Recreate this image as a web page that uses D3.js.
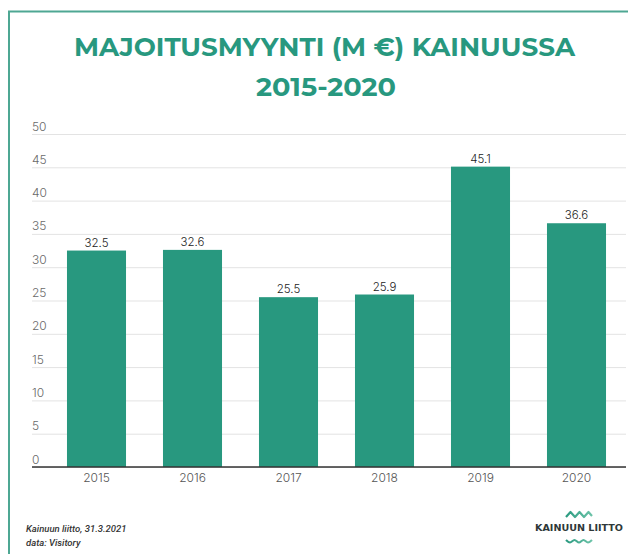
<!DOCTYPE html>
<html>
<head>
<meta charset="utf-8">
<script src="https://cdn.jsdelivr.net/npm/d3@7"></script>
<style>
  html, body { margin: 0; padding: 0; background: #ffffff; }
  svg { display: block; }
</style>
</head>
<body>
<script>
// ---- data ----
const years = ["2015", "2016", "2017", "2018", "2019", "2020"];
const sales = [32.5, 32.6, 25.5, 25.9, 45.1, 36.6];
const yTicks = [0, 5, 10, 15, 20, 25, 30, 35, 40, 45, 50];
const titleLines = ["MAJOITUSMYYNTI (M \u20AC) KAINUUSSA", "2015-2020"];
const footerLines = ["Kainuun liitto, 31.3.2021", "data: Visitory"];
const logoText = "KAINUUN LIITTO";

const W = 628, H = 554;
const teal = "#28987f";
const svg = d3.select("body").append("svg").attr("width", W).attr("height", H);

// frame
svg.append("path")
  .attr("d", "M9,554 V11.5 H628")
  .attr("fill", "none").attr("stroke", "#4ea793").attr("stroke-width", 2);

// title
const titleFont = "Montserrat, 'DejaVu Sans', sans-serif";
const titleSpecs = [{ y: 56, w: 501, cx: 324.5 }, { y: 96, w: 140, cx: 326 }];
titleLines.forEach((t, i) => {
  svg.append("text")
    .attr("x", titleSpecs[i].cx).attr("y", titleSpecs[i].y)
    .attr("text-anchor", "middle")
    .attr("font-family", titleFont).attr("font-weight", "bold")
    .attr("font-size", 26).attr("fill", teal)
    .attr("textLength", titleSpecs[i].w).attr("lengthAdjust", "spacingAndGlyphs")
    .text(t);
});

// scales
const x = d3.scaleBand().domain(years).range([48.5, 624.5])
  .paddingInner(0.385).paddingOuter(0.1925);
const y = d3.scaleLinear().domain([0, 50]).range([467, 134]);

const labelFont = "Inter, 'DejaVu Sans', sans-serif";

// y axis (gridlines + labels above the lines)
const yAxis = svg.append("g").attr("transform", "translate(32,0)")
  .call(d3.axisRight(y).tickValues(yTicks).tickSize(594).tickFormat(d3.format("d")));
yAxis.select(".domain").remove();
yAxis.selectAll(".tick line").attr("stroke", "#e3e3e3").attr("stroke-width", 1);
yAxis.selectAll(".tick text")
  .attr("x", 0).attr("dy", "-4").attr("text-anchor", "start")
  .attr("font-family", labelFont).attr("font-weight", 300)
  .attr("font-size", 12).attr("fill", "#6a6a6a");

// bars
svg.append("g").selectAll("rect").data(years).join("rect")
  .attr("x", d => x(d))
  .attr("width", x.bandwidth())
  .attr("y", (d, i) => y(sales[i]))
  .attr("height", (d, i) => y(0) - y(sales[i]))
  .attr("fill", teal);

// value labels
svg.append("g").selectAll("text").data(years).join("text")
  .attr("x", d => x(d) + x.bandwidth() / 2)
  .attr("y", (d, i) => y(sales[i]) - 4)
  .attr("text-anchor", "middle")
  .attr("font-family", labelFont).attr("font-weight", 300)
  .attr("font-size", 11.5).attr("fill", "#222")
  .text((d, i) => d3.format(".1f")(sales[i]));

// baseline
svg.append("line")
  .attr("x1", 32).attr("x2", 626).attr("y1", y(0)).attr("y2", y(0))
  .attr("stroke", "#333").attr("stroke-width", 1.5);

// x axis
const xAxis = svg.append("g").attr("transform", `translate(0,${y(0)})`)
  .call(d3.axisBottom(x).tickSize(0).tickPadding(6));
xAxis.select(".domain").remove();
xAxis.selectAll(".tick text")
  .attr("font-family", labelFont).attr("font-weight", 300)
  .attr("font-size", 12).attr("fill", "#555");

// footer
footerLines.forEach((t, i) => {
  svg.append("text")
    .attr("x", 26).attr("y", 532 + i * 14)
    .attr("font-family", "Roboto, sans-serif").attr("font-style", "italic")
    .attr("font-weight", 500).attr("font-size", 9.5).attr("fill", "#333")
    .text(t);
});

// logo
const wave1 = [[566, 517], [570.5, 512], [575, 517], [579.5, 512], [584, 517], [588.5, 512], [592, 516]];
const wave2 = [[566, 540], [570, 542.5], [574.5, 540], [579, 542.5], [583.5, 540], [588, 542.5], [592, 540]];
const grad = svg.append("defs").append("linearGradient").attr("id", "wg");
grad.append("stop").attr("offset", "0%").attr("stop-color", "#2a9a80");
grad.append("stop").attr("offset", "100%").attr("stop-color", "#6cc3a8");
svg.append("path").attr("d", d3.line()(wave1))
  .attr("fill", "none").attr("stroke", "url(#wg)").attr("stroke-width", 2.2)
  .attr("stroke-linejoin", "round");
svg.append("path").attr("d", d3.line().curve(d3.curveCatmullRom)(wave2))
  .attr("fill", "none").attr("stroke", "url(#wg)").attr("stroke-width", 2.2);
svg.append("text")
  .attr("x", 579).attr("y", 530.5).attr("text-anchor", "middle")
  .attr("font-family", "'DejaVu Sans', sans-serif").attr("font-weight", "bold")
  .attr("font-size", 9.5).attr("fill", "#2e3838")
  .attr("textLength", 88).attr("lengthAdjust", "spacingAndGlyphs")
  .text(logoText);
</script>
</body>
</html>
